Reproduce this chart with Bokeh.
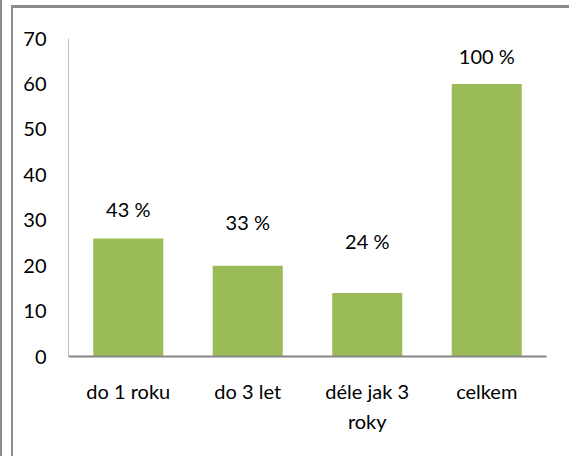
from bokeh.plotting import figure
from bokeh.models import Range1d, FactorRange, FixedTicker, ColumnDataSource
from bokeh.core.properties import value
from bokeh.embed import file_html
from bokeh.resources import INLINE

categories = ["do 1 roku", "do 3 let", "déle jak 3\nroky", "celkem"]
values = [26, 20, 14, 60]
labels = ["43 %", "33 %", "24 %", "100 %"]
label_y = [32.5, 29.7, 25.5, 66.2]
y_ticks = [0, 10, 20, 30, 40, 50, 60, 70]

FONT = "Lato"

src = ColumnDataSource(dict(cat=categories, val=values, lab=labels, ly=label_y))

p = figure(width=569, height=456, x_range=FactorRange(factors=categories, range_padding=0),
           y_range=Range1d(0, 70), output_backend="svg", toolbar_location=None,
           min_border_left=68, min_border_right=23, min_border_top=38, min_border_bottom=100)
p.outline_line_color = None
p.xgrid.visible = False
p.ygrid.visible = False
p.background_fill_color = "white"
p.border_fill_color = None

g = "linear-gradient(#8C8C8C,#8C8C8C)"
p.styles = {
    "background": (f"{g} 0px 0px/2px 100% no-repeat, "
                   f"{g} 11px 5px/2px 100% no-repeat, "
                   f"{g} 11px 5px/100% 3px no-repeat, white")
}

p.vbar(x="cat", top="val", width=0.586, source=src, fill_color="#9BBB59", line_color=None)
p.text(x="cat", y="ly", text="lab", source=src, text_align="center", text_baseline="middle",
       text_font=value(FONT), text_font_size="20px", text_color="#000000")

p.yaxis.ticker = FixedTicker(ticks=y_ticks)
p.yaxis.major_tick_line_color = None
p.yaxis.minor_tick_line_color = None
p.yaxis.axis_line_color = "#BFBFBF"
p.yaxis.axis_line_width = 1
p.yaxis.major_label_standoff = 16
p.yaxis.major_label_text_font = FONT
p.yaxis.major_label_text_font_size = "20px"
p.yaxis.major_label_text_color = "#000000"

p.xaxis.major_tick_line_color = None
p.xaxis.minor_tick_line_color = None
p.xaxis.axis_line_color = "#868686"
p.xaxis.axis_line_width = 2
p.xaxis.major_label_standoff = 16
p.xaxis.major_label_text_font = FONT
p.xaxis.major_label_text_font_size = "20px"
p.xaxis.major_label_text_color = "#000000"
p.xaxis.major_label_text_line_height = 1.25

open("out.html", "w").write(file_html(p, INLINE))
